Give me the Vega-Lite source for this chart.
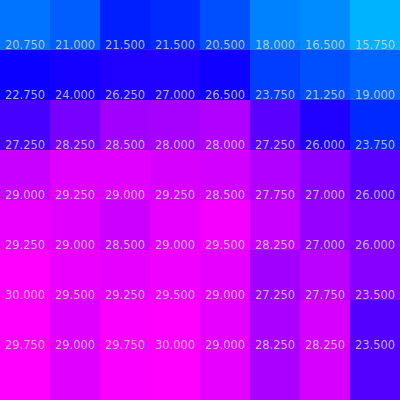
{
  "$schema": "https://vega.github.io/schema/vega-lite/v6.json",
  "autosize": {"type": "fit", "contains": "padding"},
  "width": 400,
  "height": 400,
  "padding": 0,
  "background": "white",
  "config": {"view": {"stroke": null}},
  "data": {
    "values": [
      {"row": 1, "col": 1, "value": 20.75, "intensity": -0.45},
      {"row": 1, "col": 2, "value": 21.0, "intensity": -0.37},
      {"row": 1, "col": 3, "value": 21.5, "intensity": -0.12},
      {"row": 1, "col": 4, "value": 21.5, "intensity": -0.16},
      {"row": 1, "col": 5, "value": 20.5, "intensity": -0.31},
      {"row": 1, "col": 6, "value": 18.0, "intensity": -0.51},
      {"row": 1, "col": 7, "value": 16.5, "intensity": -0.55},
      {"row": 1, "col": 8, "value": 15.75, "intensity": -0.7},
      {"row": 2, "col": 1, "value": 22.75, "intensity": 0.04},
      {"row": 2, "col": 2, "value": 24.0, "intensity": 0.08},
      {"row": 2, "col": 3, "value": 26.25, "intensity": 0.12},
      {"row": 2, "col": 4, "value": 27.0, "intensity": 0.12},
      {"row": 2, "col": 5, "value": 26.5, "intensity": 0.06},
      {"row": 2, "col": 6, "value": 23.75, "intensity": -0.24},
      {"row": 2, "col": 7, "value": 21.25, "intensity": -0.31},
      {"row": 2, "col": 8, "value": 19.0, "intensity": -0.39},
      {"row": 3, "col": 1, "value": 27.25, "intensity": 0.27},
      {"row": 3, "col": 2, "value": 28.25, "intensity": 0.47},
      {"row": 3, "col": 3, "value": 28.5, "intensity": 0.63},
      {"row": 3, "col": 4, "value": 28.0, "intensity": 0.65},
      {"row": 3, "col": 5, "value": 28.0, "intensity": 0.69},
      {"row": 3, "col": 6, "value": 27.25, "intensity": 0.35},
      {"row": 3, "col": 7, "value": 26.0, "intensity": 0.12},
      {"row": 3, "col": 8, "value": 23.75, "intensity": -0.16},
      {"row": 4, "col": 1, "value": 29.0, "intensity": 0.78},
      {"row": 4, "col": 2, "value": 29.25, "intensity": 0.88},
      {"row": 4, "col": 3, "value": 29.0, "intensity": 0.88},
      {"row": 4, "col": 4, "value": 29.25, "intensity": 0.84},
      {"row": 4, "col": 5, "value": 28.5, "intensity": 0.82},
      {"row": 4, "col": 6, "value": 27.75, "intensity": 0.69},
      {"row": 4, "col": 7, "value": 27.0, "intensity": 0.55},
      {"row": 4, "col": 8, "value": 26.0, "intensity": 0.35},
      {"row": 5, "col": 1, "value": 29.25, "intensity": 0.92},
      {"row": 5, "col": 2, "value": 29.0, "intensity": 0.88},
      {"row": 5, "col": 3, "value": 28.5, "intensity": 0.8},
      {"row": 5, "col": 4, "value": 29.0, "intensity": 0.9},
      {"row": 5, "col": 5, "value": 29.5, "intensity": 0.96},
      {"row": 5, "col": 6, "value": 28.25, "intensity": 0.78},
      {"row": 5, "col": 7, "value": 27.0, "intensity": 0.59},
      {"row": 5, "col": 8, "value": 26.0, "intensity": 0.51},
      {"row": 6, "col": 1, "value": 30.0, "intensity": 1.0},
      {"row": 6, "col": 2, "value": 29.5, "intensity": 0.92},
      {"row": 6, "col": 3, "value": 29.25, "intensity": 0.9},
      {"row": 6, "col": 4, "value": 29.5, "intensity": 0.94},
      {"row": 6, "col": 5, "value": 29.0, "intensity": 0.9},
      {"row": 6, "col": 6, "value": 27.25, "intensity": 0.63},
      {"row": 6, "col": 7, "value": 27.75, "intensity": 0.73},
      {"row": 6, "col": 8, "value": 23.5, "intensity": 0.53},
      {"row": 7, "col": 1, "value": 29.75, "intensity": 1.0},
      {"row": 7, "col": 2, "value": 29.0, "intensity": 0.88},
      {"row": 7, "col": 3, "value": 29.75, "intensity": 0.98},
      {"row": 7, "col": 4, "value": 30.0, "intensity": 1.0},
      {"row": 7, "col": 5, "value": 29.0, "intensity": 0.9},
      {"row": 7, "col": 6, "value": 28.25, "intensity": 0.67},
      {"row": 7, "col": 7, "value": 28.25, "intensity": 0.84},
      {"row": 7, "col": 8, "value": 23.5, "intensity": 0.33},
      {"row": 8, "col": 1, "intensity": 1.0},
      {"row": 8, "col": 2, "intensity": 0.88},
      {"row": 8, "col": 3, "intensity": 0.98},
      {"row": 8, "col": 4, "intensity": 1.0},
      {"row": 8, "col": 5, "intensity": 0.9},
      {"row": 8, "col": 6, "intensity": 0.67},
      {"row": 8, "col": 7, "intensity": 0.84},
      {"row": 8, "col": 8, "intensity": 0.33}
    ]
  },
  "encoding": {
    "x": {"field": "col", "type": "ordinal", "axis": null, "scale": {"paddingInner": 0, "paddingOuter": 0}},
    "y": {"field": "row", "type": "ordinal", "axis": null, "scale": {"paddingInner": 0, "paddingOuter": 0}}
  },
  "layer": [
    {
      "mark": {"type": "rect"},
      "encoding": {
        "color": {
          "field": "intensity",
          "type": "quantitative",
          "legend": null,
          "scale": {"type": "linear", "domain": [-1, 0, 1], "range": ["#00ffff", "#0000ff", "#ff00ff"], "interpolate": "rgb"}
        }
      }
    },
    {
      "transform": [{"filter": "isValid(datum.value)"}],
      "mark": {"type": "text", "font": "DejaVu Sans", "fontSize": 11.5, "fill": "#d4d4dc", "fillOpacity": 0.85, "baseline": "alphabetic", "align": "center", "dy": -1},
      "encoding": {
        "y": {"field": "row", "type": "ordinal", "bandPosition": 1},
        "text": {"field": "value", "type": "quantitative", "format": ".3f"}
      }
    }
  ]
}
